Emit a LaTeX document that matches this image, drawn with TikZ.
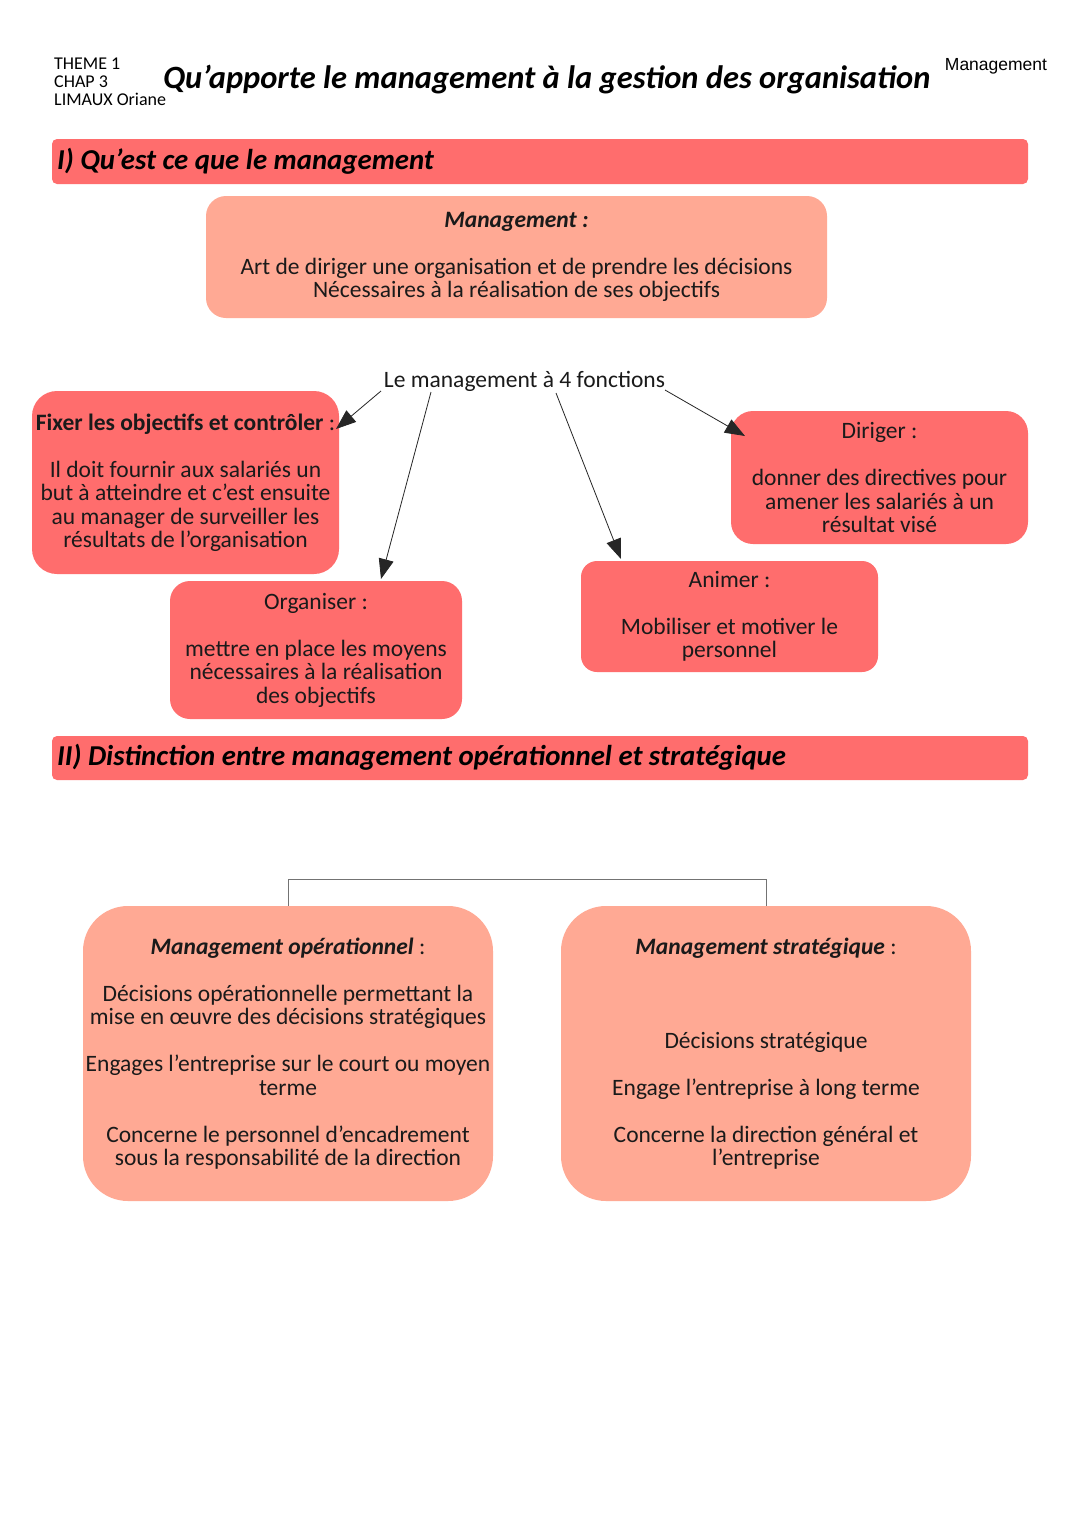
\documentclass[tikz,border=0pt]{standalone}
\usepackage{fontspec}
\setmainfont{Carlito}
\newfontfamily\arialf{Liberation Sans}
\usetikzlibrary{arrows.meta}
\definecolor{redbox}{HTML}{FF6D6D}
\definecolor{salmonbox}{HTML}{FFA994}
\definecolor{inkc}{HTML}{1A1A1A}
\begin{document}
\begin{tikzpicture}[x=1pt,y=-1pt,
  body/.style={font=\fontsize{23.5}{23.5}\selectfont, align=center, inner sep=0pt, text=inkc},
  redb/.style={body, fill=redbox},
  salb/.style={body, fill=salmonbox},
  bar/.style={fill=redbox, rounded corners=5pt, minimum width=976pt, inner sep=0pt},
  bartext/.style={font=\fontsize{28.8}{30}\selectfont\bfseries\itshape, inner sep=0pt, anchor=west, text=black},
  arr/.style={draw=black!85, line width=0.8pt, -{Triangle[length=20pt,width=15pt]}},
  brk/.style={draw=black!55, line width=0.9pt}
]
\useasboundingbox (0,0) rectangle (1080,1527);
\fill[white] (0,0) rectangle (1080,1527);

% top header
\node[anchor=north west, align=left, inner sep=0pt, font=\fontsize{18}{18}\selectfont] (hdr) at (54,58) {THEME 1\\CHAP 3\\LIMAUX Oriane};
\node[anchor=base west, inner sep=0pt, font=\fontsize{32.5}{34}\selectfont\bfseries\itshape] (title) at (163,88) {Qu’apporte le management à la gestion des organisation};
\node[inner sep=0pt, font=\arialf\fontsize{17.5}{20}\selectfont] (mtag) at (996,66) {Management};

% section I
\node[bar, minimum height=45pt] (bar1) at (540,161.5) {};
\node[bartext] (bar1t) at (57,161.5) {I) Qu’est ce que le management};

\node[salb, minimum width=621pt, minimum height=122pt, rounded corners=20pt] (mgmt) at (516.5,257)
  {\textbf{\textit{Management :}}\\[23.5pt]Art de diriger une organisation et de prendre les décisions\\Nécessaires à la réalisation de ses objectifs};

\node[body] (lbl) at (524.5,381) {Le management à 4 fonctions};

\node[redb, minimum width=307pt, minimum height=183pt, rounded corners=25pt] (fix) at (185.5,482.5)
  {\textbf{Fixer les objectifs et contrôler} :\\[23.5pt]Il doit fournir aux salariés un\\but à atteindre et c’est ensuite\\au manager de surveiller les\\résultats de l’organisation};

\node[redb, minimum width=292pt, minimum height=138pt, rounded corners=20pt] (org) at (316,650)
  {Organiser :\\[23.5pt]mettre en place les moyens\\nécessaires à la réalisation\\des objectifs};

\node[redb, minimum width=297pt, minimum height=111pt, rounded corners=16pt] (anim) at (729.5,616.5)
  {Animer :\\[23.5pt]Mobiliser et motiver le\\personnel};

\node[redb, minimum width=297pt, minimum height=133pt, rounded corners=22pt] (dir) at (879.5,477.5)
  {Diriger :\\[23.5pt]donner des directives pour\\amener les salariés à un\\résultat visé};

% arrows
\coordinate (s1) at (381,391); \coordinate (t1) at (336,429);
\coordinate (s2) at (431,392); \coordinate (t2) at (381,579);
\coordinate (s3) at (556,393); \coordinate (t3) at (621,559);
\coordinate (s4) at (665,390); \coordinate (t4) at (745,436);
\draw[arr] (s1) -- (t1);
\draw[arr] (s2) -- (t2);
\draw[arr] (s3) -- (t3);
\draw[arr] (s4) -- (t4);

% section II
\node[bar, minimum height=44pt] (bar2) at (540,758) {};
\node[bartext] (bar2t) at (57,757) {II) Distinction entre management opérationnel et stratégique};

\node[salb, minimum width=410pt, minimum height=295pt, rounded corners=45pt] (op) at (288,1053.5)
  {\textbf{\textit{Management opérationnel}} :\\[23.5pt]Décisions opérationnelle permettant la\\mise en œuvre des décisions stratégiques\\[23.5pt]Engages l’entreprise sur le court ou moyen\\terme\\[23.5pt]Concerne le personnel d’encadrement\\sous la responsabilité de la direction};

\node[salb, minimum width=410pt, minimum height=295pt, rounded corners=45pt] (strat) at (766,1053.5)
  {\textbf{\textit{Management stratégique}} :\\[70.5pt]Décisions stratégique\\[23.5pt]Engage l’entreprise à long terme\\[23.5pt]Concerne la direction général et\\l’entreprise};

\draw[brk] (op.north) -- ++(0,-26) -| (strat.north);
\end{tikzpicture}
\end{document}
